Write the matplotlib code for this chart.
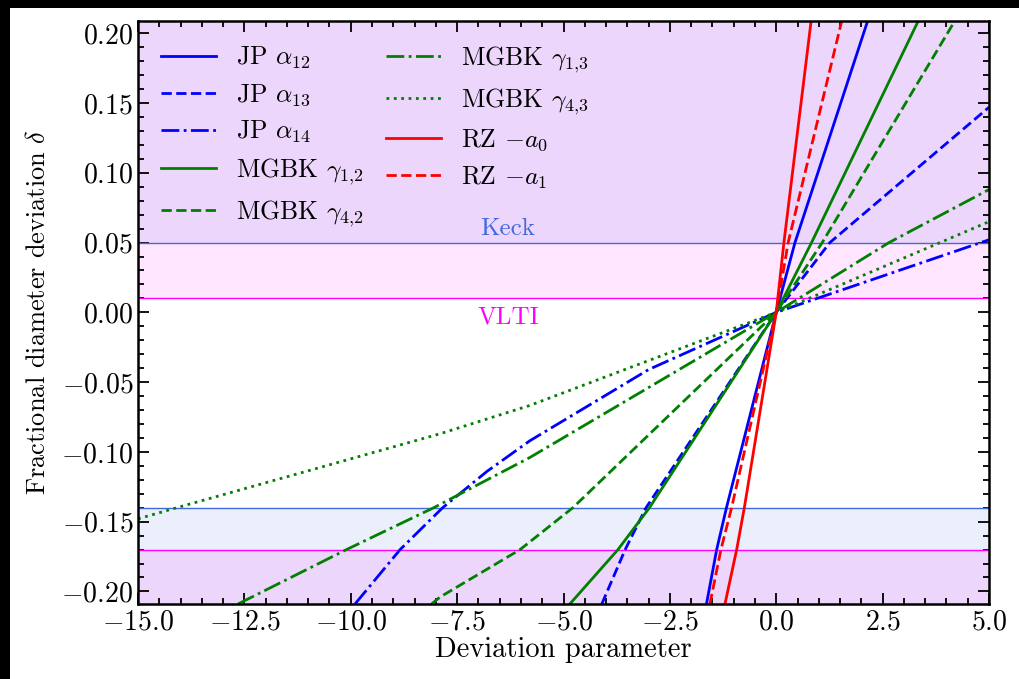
import matplotlib
matplotlib.use("Agg")
import matplotlib.pyplot as plt
from matplotlib.patches import Rectangle
from matplotlib.ticker import MultipleLocator

plt.rcParams["font.family"] = "serif"
plt.rcParams["font.serif"] = ["cmr10"]
plt.rcParams["mathtext.fontset"] = "cm"
plt.rcParams["axes.formatter.use_mathtext"] = True

# curves: deviation parameter -> fractional deviation
jp_a12_x = [-1.64, -1.40, -1.17, 0.0, 0.44, 2.15]
jp_a12_y = [-0.209, -0.17, -0.14, 0.0, 0.05, 0.209]
jp_a13_x = [-4.10, -3.55, -3.06, 0.0, 1.26, 5.0]
jp_a13_y = [-0.209, -0.17, -0.14, 0.0, 0.05, 0.147]
jp_a14_x = [-9.90, -8.84, -7.84, -6.80, -5.79, -3.0, 0.0, 5.0]
jp_a14_y = [-0.209, -0.17, -0.14, -0.114, -0.092, -0.041, 0.0, 0.052]
mgbk_g12_x = [-4.85, -3.72, -2.98, 0.0, 0.83, 3.34]
mgbk_g12_y = [-0.209, -0.17, -0.14, 0.0, 0.05, 0.209]
mgbk_g42_x = [-8.10, -7.90, -6.02, -4.78, 0.0, 1.08, 4.20]
mgbk_g42_y = [-0.209, -0.204, -0.17, -0.14, 0.0, 0.05, 0.209]
mgbk_g13_x = [-12.65, -10.1, -8.05, -5.79, 0.0, 2.65, 5.0]
mgbk_g13_y = [-0.209, -0.17, -0.14, -0.104, 0.0, 0.05, 0.088]
mgbk_g43_x = [-15.0, -14.09, -7.90, -5.79, 0.0, 3.85, 5.0]
mgbk_g43_y = [-0.148, -0.14, -0.087, -0.0667, 0.0, 0.05, 0.065]
rz_a0_x = [-1.205, -0.93, -0.75, 0.0, 0.18, 0.82]
rz_a0_y = [-0.209, -0.17, -0.14, 0.0, 0.05, 0.209]
rz_a1_x = [-1.56, -1.30, -1.05, 0.0, 0.28, 1.54]
rz_a1_y = [-0.209, -0.17, -0.14, 0.0, 0.05, 0.209]

# instrument limits on delta
keck_limits = [-0.14, 0.05]
vlti_limits = [-0.17, 0.01]

fig = plt.figure(figsize=(10.19, 6.79), dpi=100, facecolor="black")
fig.patches.append(Rectangle((10 / 1019, 0), 1, 671 / 679, transform=fig.transFigure,
                             facecolor="white", edgecolor="none", zorder=-10))
ax = fig.add_axes([138 / 1019, 1 - 604 / 679, 851 / 1019, 583.3 / 679])

ylo, yhi = -0.209, 0.209
ax.axhspan(keck_limits[1], yhi, color="royalblue", alpha=0.1, lw=0)
ax.axhspan(ylo, keck_limits[0], color="royalblue", alpha=0.1, lw=0)
ax.axhspan(vlti_limits[1], yhi, color="magenta", alpha=0.1, lw=0)
ax.axhspan(ylo, vlti_limits[0], color="magenta", alpha=0.1, lw=0)
for v in keck_limits:
    ax.axhline(v, color="royalblue", lw=1)
for v in vlti_limits:
    ax.axhline(v, color="magenta", lw=1)
ax.text(-6.3, keck_limits[1] + 0.002, "Keck", color="royalblue", fontsize=18,
        ha="center", va="bottom")
ax.text(-6.3, vlti_limits[1] - 0.006, "VLTI", color="magenta", fontsize=18,
        ha="center", va="top")

lw = 2
ax.plot(jp_a12_x, jp_a12_y, color="blue", ls="-", lw=lw, label=r"JP $\alpha_{12}$")
ax.plot(jp_a13_x, jp_a13_y, color="blue", ls="--", lw=lw, label=r"JP $\alpha_{13}$")
ax.plot(jp_a14_x, jp_a14_y, color="blue", ls="-.", lw=lw, label=r"JP $\alpha_{14}$")
ax.plot(mgbk_g12_x, mgbk_g12_y, color="green", ls="-", lw=lw, label=r"MGBK $\gamma_{1{,}2}$")
ax.plot(mgbk_g42_x, mgbk_g42_y, color="green", ls="--", lw=lw, label=r"MGBK $\gamma_{4{,}2}$")
ax.plot(mgbk_g13_x, mgbk_g13_y, color="green", ls="-.", lw=lw, label=r"MGBK $\gamma_{1{,}3}$")
ax.plot(mgbk_g43_x, mgbk_g43_y, color="green", ls=":", lw=lw, label=r"MGBK $\gamma_{4{,}3}$")
ax.plot(rz_a0_x, rz_a0_y, color="red", ls="-", lw=lw, label=r"RZ $-a_0$")
ax.plot(rz_a1_x, rz_a1_y, color="red", ls="--", lw=lw, label=r"RZ $-a_1$")

ax.set_xlim(-15, 5)
ax.set_ylim(ylo, yhi)
ax.xaxis.set_major_locator(MultipleLocator(2.5))
ax.xaxis.set_minor_locator(MultipleLocator(0.5))
ax.yaxis.set_major_locator(MultipleLocator(0.05))
ax.yaxis.set_minor_locator(MultipleLocator(0.01))
ax.tick_params(which="both", direction="in", top=True, right=True, labelsize=20, width=1.3)
ax.tick_params(which="major", length=8)
ax.tick_params(which="minor", length=4)
for s in ax.spines.values():
    s.set_linewidth(1.8)

ax.set_xlabel("Deviation parameter", fontsize=20.5, labelpad=1)
ax.set_ylabel(r"Fractional diameter deviation $\delta$", fontsize=19, labelpad=8)

ax.legend(loc="upper left", ncol=2, frameon=False, fontsize=18.5, handlelength=2.14,
          handletextpad=0.78, labelspacing=0.43, columnspacing=0.85,
          borderaxespad=0.5, borderpad=0.4)

fig.savefig("out.png", dpi=100, facecolor=fig.get_facecolor())
